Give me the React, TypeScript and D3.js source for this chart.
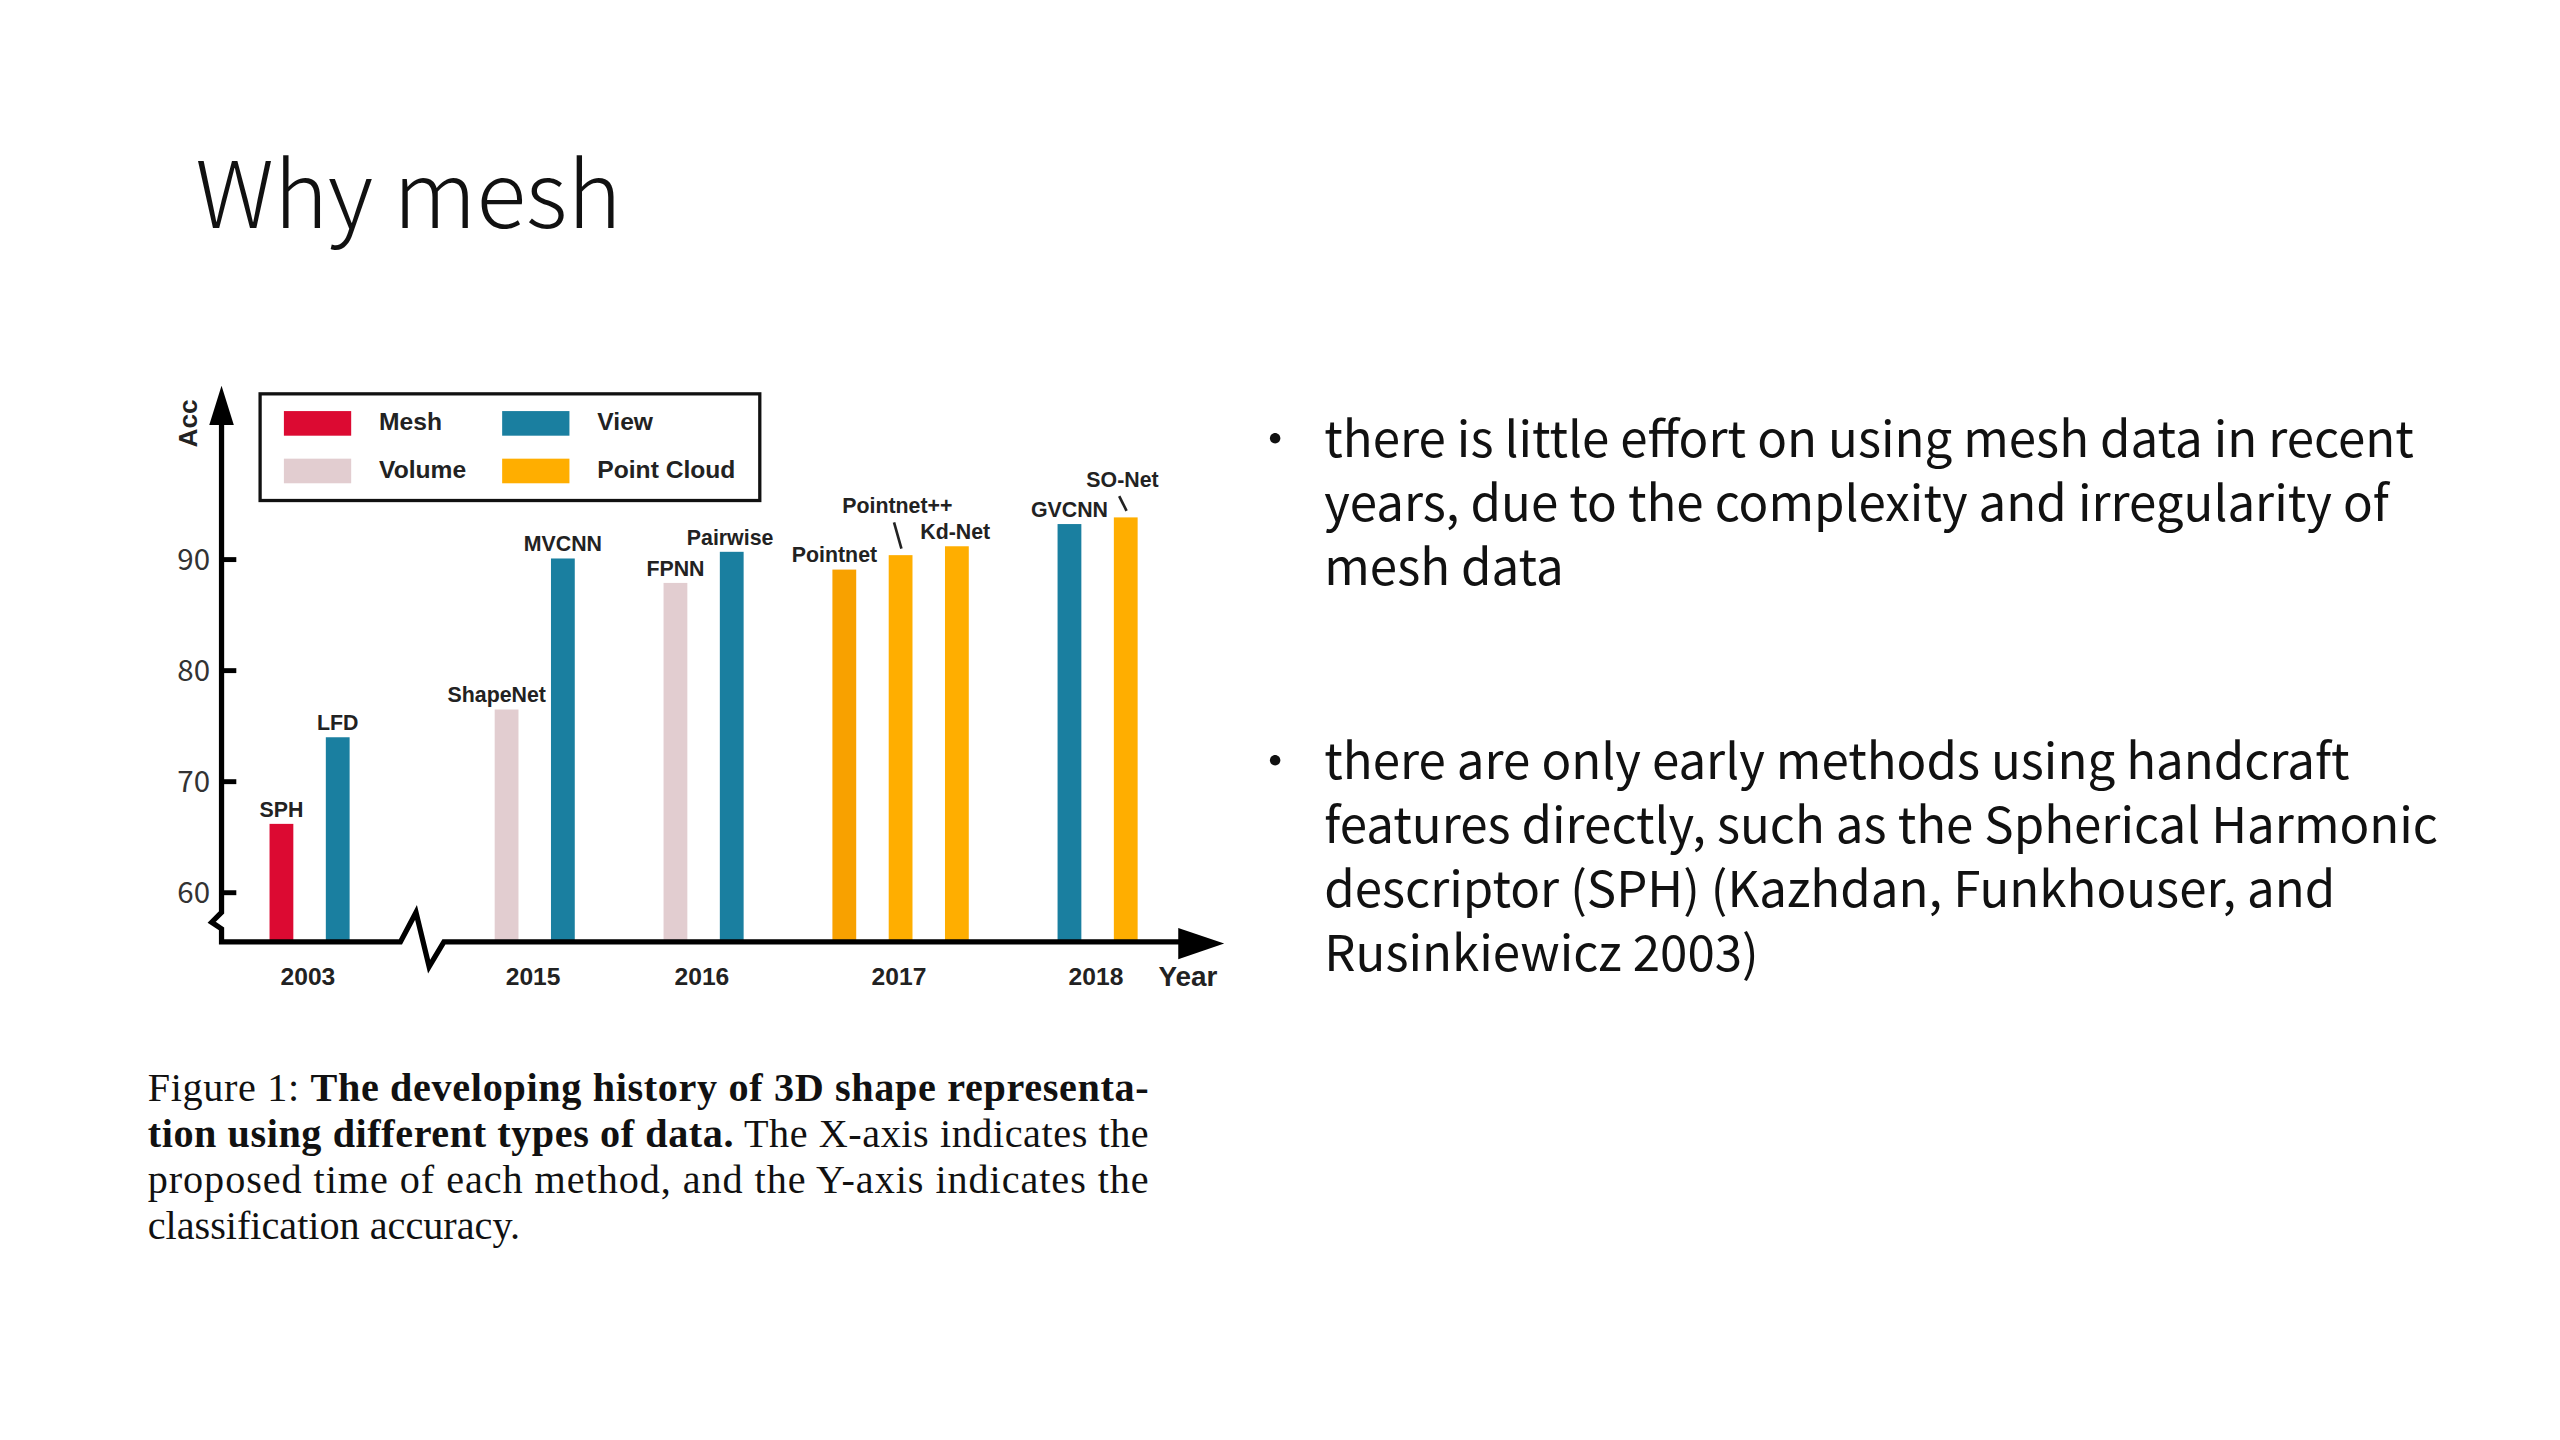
import React from 'react';
import * as d3 from 'd3';

// year groups, in drawing order
const years = ['2003', '2015', '2016', '2017', '2018'];
const methods = [
  { name: 'SPH', year: '2003', type: 'Mesh', acc: 66.2 },
  { name: 'LFD', year: '2003', type: 'View', acc: 74.0 },
  { name: 'ShapeNet', year: '2015', type: 'Volume', acc: 76.5 },
  { name: 'MVCNN', year: '2015', type: 'View', acc: 90.1 },
  { name: 'FPNN', year: '2016', type: 'Volume', acc: 87.9 },
  { name: 'Pairwise', year: '2016', type: 'View', acc: 90.7 },
  { name: 'Pointnet', year: '2017', type: 'Point Cloud', acc: 89.1 },
  { name: 'Pointnet++', year: '2017', type: 'Point Cloud', acc: 90.4 },
  { name: 'Kd-Net', year: '2017', type: 'Point Cloud', acc: 91.2 },
  { name: 'GVCNN', year: '2018', type: 'View', acc: 93.2 },
  { name: 'SO-Net', year: '2018', type: 'Point Cloud', acc: 93.8 },
];
const types = ['Mesh', 'View', 'Volume', 'Point Cloud'];
const yTicks = [60, 70, 80, 90];

const colors: Record<string, string> = {
  Mesh: '#dc0a32',
  View: '#1a7fa0',
  Volume: '#e2cdd0',
  'Point Cloud': '#ffae00',
};

// label placement tweaks
const labelShift: Record<string, number> = { ShapeNet: -6, Pointnet: -6, Pairwise: -1, 'Kd-Net': -1, 'Pointnet++': -2, 'SO-Net': -2 };
const leaderLabels: Record<string, number> = { 'Pointnet++': 30, 'SO-Net': 23 };

const bullets = [
  ['there is little effort on using mesh data in recent', 'years, due to the complexity and irregularity of', 'mesh data'],
  ['there are only early methods using handcraft', 'features directly, such as the Spherical Harmonic', 'descriptor (SPH) (Kazhdan, Funkhouser, and', 'Rusinkiewicz 2003)'],
];

// build slots: gap of one between groups, two after 2003 (axis break)
const slots: string[] = [];
years.forEach((yr, i) => {
  if (i === 1) slots.push('gap-a', 'gap-b');
  else if (i > 1) slots.push('gap-' + yr);
  methods.filter(m => m.year === yr).forEach(m => slots.push(m.name));
});

const x = d3.scaleBand<string>().domain(slots).range([154.35, 703.15]);
const y = d3.scaleLinear().domain([60, 90]).range([544, 341]);
const barW = 14.5;

const sans = '"Liberation Sans", Arial, sans-serif';
const light = '"Noto Sans CJK SC", "Noto Sans", sans-serif';

export default function App() {
  const cx = (n: string) => (x(n) ?? 0) + x.bandwidth() / 2;
  const baseY = 574;

  const axisPath = d3.path();
  axisPath.moveTo(135, 250);
  axisPath.lineTo(135, 556);
  axisPath.lineTo(129, 562);
  axisPath.lineTo(135, 566);
  axisPath.lineTo(135, baseY);
  axisPath.lineTo(244, baseY);
  axisPath.lineTo(253.5, 556);
  axisPath.lineTo(261.5, 589);
  axisPath.lineTo(270.5, baseY);
  axisPath.lineTo(725, baseY);

  return (
    <svg
      width={2560}
      height={1440}
      viewBox="0 0 1560 877.5"
      style={{ position: 'absolute', left: 0, top: 0, background: '#fff' }}
    >
      <rect x={0} y={0} width={1560} height={877.5} fill="#fff" />
      <text x={119} y={139} fontFamily={light} fontWeight={300} fontSize={56} fill="#111">
        Why mesh
      </text>

      {/* bars */}
      {methods.map(m => (
        <rect
          key={m.name}
          x={cx(m.name) - barW / 2}
          y={y(m.acc)}
          width={barW}
          height={baseY - y(m.acc)}
          fill={m.name === 'Pointnet' ? '#f8a100' : colors[m.type]}
        />
      ))}

      {/* bar labels */}
      {methods.map(m => {
        const lift = leaderLabels[m.name] ?? 9;
        const lx = cx(m.name) + (labelShift[m.name] ?? 0);
        return (
          <g key={'l' + m.name}>
            <text
              x={lx}
              y={y(m.acc) - lift}
              dy="0.35em"
              textAnchor="middle"
              fontFamily={sans}
              fontWeight="bold"
              fontSize={13}
              fill="#222"
            >
              {m.name}
            </text>
            {leaderLabels[m.name] != null && (
              <line
                x1={cx(m.name) - 4}
                y1={y(m.acc) - lift + 10}
                x2={cx(m.name) + 0.5}
                y2={y(m.acc) - 4}
                stroke="#222"
                strokeWidth={1.6}
              />
            )}
          </g>
        );
      })}

      {/* axes */}
      <path d={axisPath.toString()} fill="none" stroke="#000" strokeWidth={3.2} strokeLinejoin="miter" />
      <path d="M135,235 L127.5,259 L142.5,259 Z" fill="#000" />
      <path d="M746,575 L718,565.5 L718,584.5 Z" fill="#000" />
      {yTicks.map(t => (
        <g key={t}>
          <line x1={135} x2={144} y1={y(t)} y2={y(t)} stroke="#000" strokeWidth={3} />
          <text x={128} y={y(t)} dy="0.36em" textAnchor="end" fontFamily={light} fontSize={18} fill="#333">
            {t}
          </text>
        </g>
      ))}
      <text
        transform="translate(120,258) rotate(-90)"
        textAnchor="middle"
        fontFamily={sans}
        fontWeight="bold"
        fontSize={16}
        fill="#222"
      >
        Acc
      </text>
      {years.map(yr => {
        const ms = methods.filter(m => m.year === yr);
        const c = (cx(ms[0].name) + cx(ms[ms.length - 1].name)) / 2;
        return (
          <text key={yr} x={c - 1} y={595} dy="0.35em" textAnchor="middle" fontFamily={sans} fontWeight="bold" fontSize={15} fill="#222">
            {yr}
          </text>
        );
      })}
      <text x={706} y={595} dy="0.35em" fontFamily={sans} fontWeight="bold" fontSize={17} fill="#222">
        Year
      </text>

      {/* legend */}
      <rect x={158.5} y={240} width={304.5} height={65} fill="#fff" stroke="#111" strokeWidth={2} />
      {types.map((t, i) => {
        const col = i % 2;
        const row = Math.floor(i / 2);
        const sx = 173 + col * 133;
        const sy = 258 + row * 29;
        return (
          <g key={t}>
            <rect x={sx} y={sy - 7.5} width={41} height={15} fill={colors[t]} />
            <text x={sx + 58} y={sy - 1} dy="0.35em" fontFamily={sans} fontWeight="bold" fontSize={15} fill="#222">
              {t}
            </text>
          </g>
        );
      })}

      {/* caption */}
      <g fontFamily='"Liberation Serif", "Times New Roman", serif' fontSize={24.5} fill="#111">
        <text x={90} y={671} textLength={610} lengthAdjust="spacing">
          Figure 1: <tspan fontWeight="bold">The developing history of 3D shape representa-</tspan>
        </text>
        <text x={90} y={699} textLength={610} lengthAdjust="spacing">
          <tspan fontWeight="bold">tion using different types of data.</tspan> The X-axis indicates the
        </text>
        <text x={90} y={727} textLength={610} lengthAdjust="spacing">
          proposed time of each method, and the Y-axis indicates the
        </text>
        <text x={90} y={755}>classification accuracy.</text>
      </g>

      {/* bullets */}
      {bullets.map((lines, bi) => (
        <g key={bi} fontFamily={light} fontSize={30} fill="#111">
          <text x={762} y={268 + bi * 196} dy="0.35em" fontSize={30}>
            •
          </text>
          {lines.map((ln, li) => (
            <text key={li} x={807} y={268 + bi * 196 + li * 39} dy="0.35em">
              {ln}
            </text>
          ))}
        </g>
      ))}
    </svg>
  );
}
